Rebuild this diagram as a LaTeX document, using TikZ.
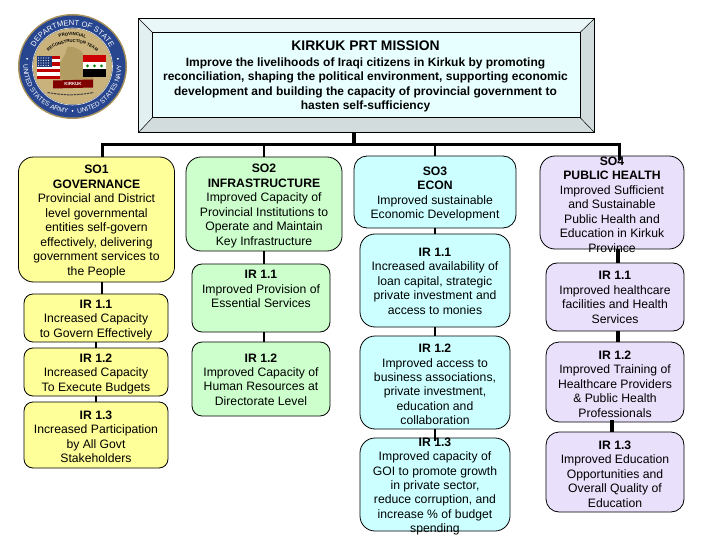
\documentclass[tikz,border=0pt]{standalone}
\usepackage{fontspec}
\setmainfont{Liberation Sans}
\usetikzlibrary{decorations.text}
\definecolor{cyel}{HTML}{FFFF99}
\definecolor{cgrn}{HTML}{CCFFCC}
\definecolor{ccya}{HTML}{CCFFFF}
\definecolor{clav}{HTML}{E9E0FB}
\definecolor{bevtop}{HTML}{EAF7F8}
\definecolor{bevlight}{HTML}{E3F0F2}
\definecolor{bevdark}{HTML}{D2DCDC}
\definecolor{sealblue}{HTML}{27468F}
\definecolor{sealgold}{HTML}{C9B27C}
\definecolor{sealedge}{HTML}{A8925A}
\definecolor{sealmap}{HTML}{B39C62}
\tikzset{
  boxbase/.style={draw=black,line width=0.8pt,inner sep=0pt,outer sep=0pt},
  yel/.style={boxbase,fill=cyel},
  grn/.style={boxbase,fill=cgrn},
  cya/.style={boxbase,fill=ccya},
  lav/.style={boxbase,fill=clav},
  txt/.style={align=center,inner sep=0pt,font=\fontsize{12.2}{14.45}\selectfont},
  bus/.style={line width=3pt},
  conn/.style={line width=2.5pt},
  connthick/.style={line width=4pt},
  bevel/.style={draw=black,line width=0.8pt},
  sealtext/.style={decorate,decoration={text along path,text align=center,#1}}
}
% style, name, x1, y1, x2, y2, corner radius
\newcommand\bx[7]{\node[#1,rounded corners=#7pt,minimum width={(#5-#3)*1pt},minimum height={(#6-#4)*1pt}] (#2) at ({(#3+#5)/2},{(#4+#6)/2}) {};}
\newcommand\tx[2]{\node[txt,yshift=-2pt] (#1-t) at (#1.center) {#2};}
\begin{document}
\begin{tikzpicture}[x=1pt,y=-1pt]
\useasboundingbox (0,0) rectangle (720,540);
\fill[white] (0,0) rectangle (720,540);

% mission bevel
\coordinate (oa) at (138.5,18.5); \coordinate (ob) at (594.5,18.5);
\coordinate (oc) at (594.5,132.5); \coordinate (od) at (138.5,132.5);
\coordinate (ia) at (152.5,32.5); \coordinate (ib) at (580,32.5);
\coordinate (ic) at (580,117.5); \coordinate (id) at (152.5,117.5);
\fill[bevtop] (oa) -- (ob) -- (ib) -- (ia) -- cycle;
\fill[bevlight] (oa) -- (ia) -- (id) -- (od) -- cycle;
\fill[bevdark] (ob) -- (oc) -- (ic) -- (ib) -- cycle;
\fill[bevdark] (od) -- (id) -- (ic) -- (oc) -- cycle;
\node[draw=black,line width=0.8pt,inner sep=0pt,minimum width=456pt,minimum height=114pt] (mission) at (366.5,75.5) {};
\draw[bevel,line width=0.5pt] (oa) -- (ia) (ob) -- (ib) (oc) -- (ic) (od) -- (id);
\node[draw=black,line width=0.8pt,fill=ccya!45!white,inner sep=0pt,minimum width=427.5pt,minimum height=85pt] (missioninner) at (366.25,75) {};

% boxes
\bx{yel}{so1}{18.5}{157}{174.5}{282}{15}
\bx{yel}{g1}{24}{294}{168}{342}{9}
\bx{yel}{g2}{24}{348}{168}{396}{9}
\bx{yel}{g3}{24}{402}{168}{468}{9}
\bx{grn}{so2}{186}{157}{342}{251}{15}
\bx{grn}{i1}{192}{264}{330}{332}{10}
\bx{grn}{i2}{192}{342}{330}{416}{10}
\bx{cya}{so3}{354}{156}{516}{228}{13}
\bx{cya}{e1}{360}{234}{510}{327}{15}
\bx{cya}{e2}{360}{336}{510}{429}{15}
\bx{cya}{e3}{360}{438}{510}{531}{15}
\bx{lav}{so4}{540}{156}{684}{249}{15}
\bx{lav}{h1}{546}{263}{684}{331}{11}
\bx{lav}{h2}{546}{342}{684}{422}{13}
\bx{lav}{h3}{546}{432}{684}{512}{13}

% connectors
\coordinate (busc) at (354,145);
\draw[connthick] ([xshift=-12.5pt]mission.south) -- (busc);
\draw[bus] ([xshift=5.5pt]so1.north) |- (busc) -| ([xshift=7pt,yshift=-4pt]so4.north);
\draw[conn] (so2.north) -- (so2.north |- busc);
\draw[conn] (so3.north) -- (so3.north |- busc);
\draw[conn] ([xshift=5.5pt]so1.south) -- ([xshift=6pt]g1.north);
\draw[conn] (g1.south) -- (g2.north);
\draw[conn] (g2.south) -- (g3.north);
\draw[conn] (so2.south) -- ([xshift=3pt]i1.north);
\draw[conn] ([xshift=3pt]i1.south) -- ([xshift=3pt]i2.north);
\draw[conn] (so3.south) -- (e1.north);
\draw[conn] (e1.south) -- (e2.north);
\draw[conn] (e2.south) -- ([yshift=-3pt]e3.north);
\draw[connthick] ([xshift=6pt]so4.south) -- ([xshift=3pt]h1.north);
\draw[connthick] ([xshift=3pt]h1.south) -- ([xshift=3pt]h2.north);
\draw[connthick] ([yshift=2pt,xshift=-3pt]h2.south) -- ([xshift=-3pt]h3.north);

% texts
\node[inner sep=0pt,font=\bfseries\fontsize{13.9}{15}\selectfont] (mt) at (365.5,46) {KIRKUK PRT MISSION};
\node[align=center,inner sep=0pt,font=\bfseries\fontsize{12}{14.4}\selectfont] (mb) at (365.5,85) {Improve the livelihoods of Iraqi citizens in Kirkuk by promoting\\reconciliation, shaping the political environment, supporting economic\\development and building the capacity of provincial government to\\hasten self-sufficiency};

\tx{so1}{\textbf{SO1}\\\textbf{GOVERNANCE}\\Provincial and District\\level governmental\\entities self-govern\\effectively, delivering\\government services to\\the People}
\tx{g1}{\textbf{IR 1.1}\\Increased Capacity\\to Govern Effectively}
\tx{g2}{\textbf{IR 1.2}\\Increased Capacity\\To Execute Budgets}
\tx{g3}{\textbf{IR 1.3}\\Increased Participation\\by All Govt\\Stakeholders}
\tx{so2}{\textbf{SO2}\\\textbf{INFRASTRUCTURE}\\Improved Capacity of\\Provincial Institutions to\\Operate and Maintain\\Key Infrastructure}
\node[txt,anchor=north] (i1-t) at (261,270) {\textbf{IR 1.1}\\Improved Provision of\\Essential Services};
\node[txt,yshift=-0.5pt] (i2-t) at (i2.center) {\textbf{IR 1.2}\\Improved Capacity of\\Human Resources at\\Directorate Level};
\tx{so3}{\textbf{SO3}\\\textbf{ECON}\\Improved sustainable\\Economic Development}
\node[txt,yshift=-0.5pt] (e1-t) at (e1.center) {\textbf{IR 1.1}\\Increased availability of\\loan capital, strategic\\private investment and\\access to monies};
\tx{e2}{\textbf{IR 1.2}\\Improved access to\\business associations,\\private investment,\\education and\\collaboration}
\tx{e3}{\textbf{IR 1.3}\\Improved capacity of\\GOI to promote growth\\in private sector,\\reduce corruption, and\\increase \% of budget\\spending}
\tx{so4}{\textbf{SO4}\\\textbf{PUBLIC HEALTH}\\Improved Sufficient\\and Sustainable\\Public Health and\\Education in Kirkuk\\Province}
\node[txt,yshift=-0.5pt] (h1-t) at (h1.center) {\textbf{IR 1.1}\\Improved healthcare\\facilities and Health\\Services};
\tx{h2}{\textbf{IR 1.2}\\Improved Training of\\Healthcare Providers\\\& Public Health\\Professionals}
\tx{h3}{\textbf{IR 1.3}\\Improved Education\\Opportunities and\\Overall Quality of\\Education}

% seal
\begin{scope}[shift={(72.5,66.5)},x=1pt,y=1pt]
\fill[sealedge] (0,0) ellipse [x radius=54.5,y radius=52.5];
\fill[sealblue] (0,0) ellipse [x radius=53,y radius=51];
\draw[white!85!sealgold,line width=0.6pt] (0,0) ellipse [x radius=40,y radius=38.5];
\fill[sealgold] (0,0) ellipse [x radius=39.5,y radius=38];
\fill[sealmap] plot[smooth cycle,tension=0.6] coordinates {(-4,20) (9,15) (13,1) (21,-12) (13,-21) (-2,-16) (-19,-8) (-12,4) (-7,13)};
% US flag
\fill[white] (-35.5,-12.5) rectangle (-12.5,10.5);
\foreach \s in {0,2,4,6}{\fill[red!75!black] (-35.5,{-12.5+\s*3.3}) rectangle (-12.5,{-12.5+(\s+1)*3.3});}
\fill[sealblue!85!black] (-35.5,-1) rectangle (-21,10.5);
\foreach \a in {-34,-31.5,-29,-26.5,-24}{\foreach \b in {1,3.5,6,8.5}{\fill[white!85!sealblue] (\a,\b) circle (0.6);}}
% Iraq flag
\fill[red!80!black] (10.5,4.5) rectangle (33.5,11.5);
\fill[white] (10.5,-3) rectangle (33.5,4.5);
\fill[black] (10.5,-10.5) rectangle (33.5,-3);
\foreach \a in {15,22,29}{\fill[green!50!black] (\a,0.7) circle (1.5);}
% banner
\fill[red!50!black] (-19.5,-14) -- (20.5,-13) -- (20.5,-21) -- (-19.5,-22) -- cycle;
\node[inner sep=0pt,text=white!90!sealgold,font=\bfseries\fontsize{4.5}{5}\selectfont] (sealkirkuk) at (0.5,-17.5) {KIRKUK};
\draw[black!75,line width=1pt,dash pattern=on 2.5pt off 0.8pt] (-25,-26) to[bend right=10] (21,-26);
% ring text
\path[sealtext={text={|\color{white}\fontsize{7.6}{8}\selectfont|DEPARTMENT OF STATE}}] (160:42.5 and 41) arc[start angle=160,end angle=20,x radius=42.5,y radius=41];
\path[sealtext={text={|\color{white}\fontsize{6.6}{8}\selectfont|UNITED STATES ARMY}}] (176:49 and 47) arc[start angle=176,end angle=266,x radius=49,y radius=47];
\path[sealtext={text={|\color{white}\fontsize{6.6}{8}\selectfont|UNITED STATES NAVY}}] (274:49 and 47) arc[start angle=274,end angle=364,x radius=49,y radius=47];
\foreach \a in {170,270,10}{\fill[white] (\a:46 and 44.5) circle (1);}
% centre text
\path[sealtext={text={|\bfseries\color{black}\fontsize{4.4}{5}\selectfont|PROVINCIAL}}] (125:34 and 31) arc[start angle=125,end angle=55,x radius=34,y radius=31];
\path[sealtext={text={|\bfseries\color{black}\fontsize{4.2}{5}\selectfont|RECONSTRUCTION TEAM}}] (155:31 and 24) arc[start angle=155,end angle=25,x radius=31,y radius=24];
\end{scope}
\end{tikzpicture}
\end{document}
